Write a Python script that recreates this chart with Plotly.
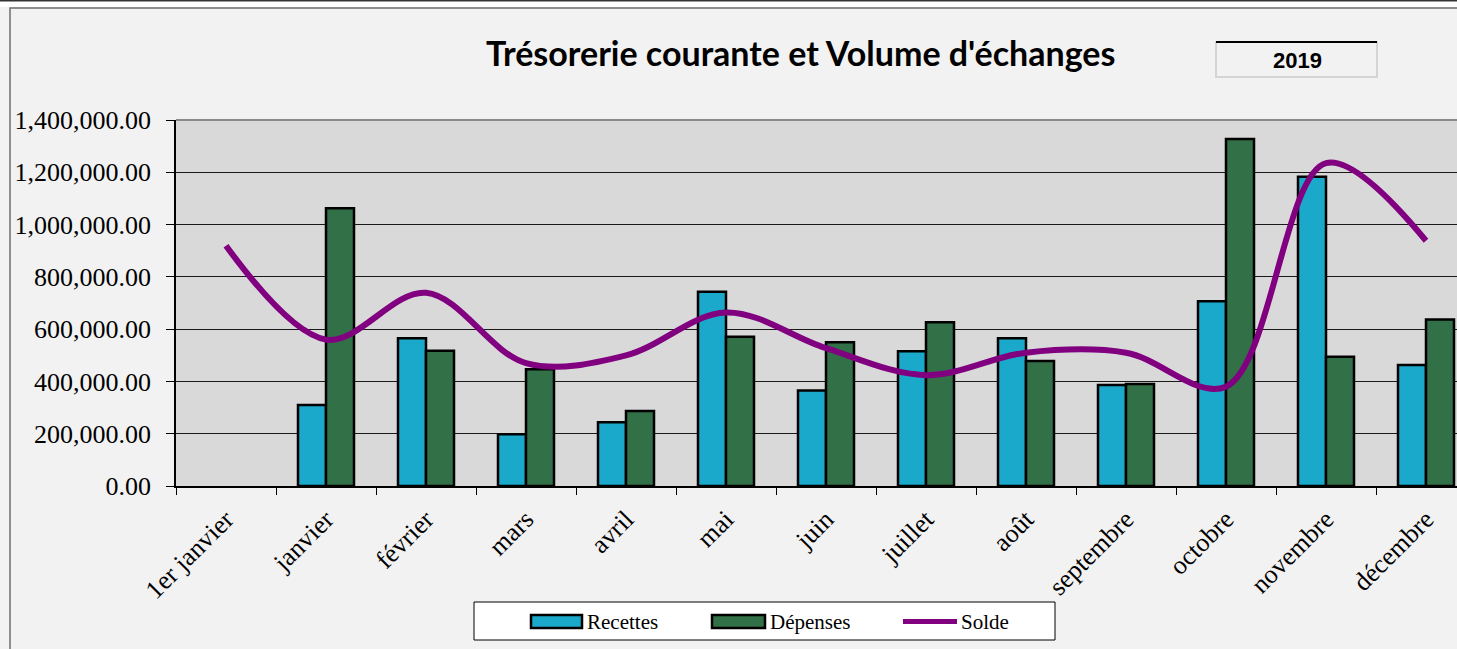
import plotly.graph_objects as go

categories = ["1er janvier", "janvier", "février", "mars", "avril", "mai", "juin",
              "juillet", "août", "septembre", "octobre", "novembre", "décembre"]
recettes = [None, 310000, 565000, 198000, 244000, 743000, 365000, 515000, 565000,
            386000, 707000, 1183000, 463000]
depenses = [None, 1062000, 517000, 447000, 287000, 571000, 550000, 626000, 478000,
            390000, 1327000, 494000, 637000]
solde = [919000, 560000, 739000, 470000, 500000, 664000, 527000, 424000, 510000,
         510000, 380000, 1235000, 938000]
y_ticks = [0, 200000, 400000, 600000, 800000, 1000000, 1200000, 1400000]
y_tick_text = ["{:,.2f}".format(v) for v in y_ticks]
series_names = ["Recettes", "Dépenses", "Solde"]
series_colors = ["#1ba9cb", "#327047", "#800080"]

W, H = 1457, 649
L, R, T, B = 176, 0, 120, 163
pw = W - L - R
ph = H - T - B

def px(x):
    return (x - L) / pw

def py(y):
    return (H - B - y) / ph

serif = "Liberation Serif"

fig = go.Figure()
fig.add_trace(go.Bar(x=categories, y=recettes, name=series_names[0], showlegend=False,
                     marker=dict(color=series_colors[0], line=dict(color="black", width=2.5))))
fig.add_trace(go.Bar(x=categories, y=depenses, name=series_names[1], showlegend=False,
                     marker=dict(color=series_colors[1], line=dict(color="black", width=2.5))))
fig.add_trace(go.Scatter(x=categories, y=solde, name=series_names[2], mode="lines", showlegend=False,
                         line=dict(color=series_colors[2], width=6, shape="spline", smoothing=1.0)))

shapes = [
    # outer frame
    dict(type="rect", xref="paper", yref="paper", x0=px(10), x1=px(1490), y0=py(8), y1=py(700),
         line=dict(color="#6e6e6e", width=1.5), fillcolor="rgba(0,0,0,0)", layer="below"),
    # white strip at top
    dict(type="rect", xref="paper", yref="paper", x0=px(-5), x1=px(1490), y0=py(7), y1=py(-5),
         line=dict(width=0), fillcolor="white", layer="below"),
    dict(type="line", xref="paper", yref="paper", x0=px(0), x1=px(1490), y0=py(0.5), y1=py(0.5),
         line=dict(color="#333333", width=2)),
    # plot top border
    dict(type="line", xref="paper", yref="paper", x0=0, x1=1, y0=1, y1=1,
         line=dict(color="#8a8a8a", width=2)),
    # year box
    dict(type="rect", xref="paper", yref="paper", x0=px(1216), x1=px(1377), y0=py(42), y1=py(77),
         line=dict(color="#d4d4d4", width=2), fillcolor="#f2f2f2"),
    dict(type="line", xref="paper", yref="paper", x0=px(1216), x1=px(1377), y0=py(42), y1=py(42),
         line=dict(color="black", width=2)),
    # legend box
    dict(type="rect", xref="paper", yref="paper", x0=px(474), x1=px(1055), y0=py(602), y1=py(640),
         line=dict(color="black", width=1), fillcolor="white"),
    dict(type="rect", xref="paper", yref="paper", x0=px(531), x1=px(582), y0=py(615), y1=py(628),
         line=dict(color="black", width=2.5), fillcolor=series_colors[0]),
    dict(type="rect", xref="paper", yref="paper", x0=px(712), x1=px(765), y0=py(615), y1=py(628),
         line=dict(color="black", width=2.5), fillcolor=series_colors[1]),
    dict(type="line", xref="paper", yref="paper", x0=px(903), x1=px(957), y0=py(621.5), y1=py(621.5),
         line=dict(color=series_colors[2], width=5)),
]

annotations = [
    dict(text="<b>Trésorerie courante et Volume d'échanges</b>", xref="paper", yref="paper",
         x=px(800), y=py(53), xanchor="center", yanchor="middle", showarrow=False,
         font=dict(family="Lato", size=34, color="black")),
    dict(text="<b>2019</b>", xref="paper", yref="paper", x=px(1297), y=py(61),
         xanchor="center", yanchor="middle", showarrow=False,
         font=dict(family="Liberation Sans", size=22, color="black")),
]
for name, lx in zip(series_names, [585, 768, 959]):
    annotations.append(dict(text=name, xref="paper", yref="paper", x=px(lx), y=py(622),
                            xanchor="left", yanchor="middle", showarrow=False,
                            font=dict(family=serif, size=21, color="black")))

fig.update_layout(
    width=W, height=H,
    margin=dict(l=L, r=R, t=T, b=B, pad=0),
    paper_bgcolor="#f2f2f2", plot_bgcolor="#d9d9d9",
    barmode="group", bargap=0.44, bargroupgap=0,
    shapes=shapes, annotations=annotations,
    showlegend=False,
    font=dict(family=serif, color="black"),
)
fig.update_xaxes(range=[-0.5, 12.31], type="category", tickangle=-45,
                 tickfont=dict(family=serif, size=26, color="black"),
                 showline=True, linecolor="black", linewidth=1.5,
                 ticks="outside", ticklen=7, tickcolor="black", tickson="boundaries",
                 ticklabelstandoff=6, showgrid=False)
fig.update_yaxes(range=[0, 1400000], tickvals=y_ticks, ticktext=y_tick_text,
                 tickfont=dict(family=serif, size=26, color="black"),
                 showline=True, linecolor="black", linewidth=1.5,
                 ticks="outside", ticklen=8, tickcolor="black", ticklabelstandoff=10,
                 showgrid=True, gridcolor="#1a1a1a", gridwidth=1, zeroline=False)

fig.write_html("out.html", config={"displayModeBar": False},
               post_script="document.body.style.margin='0';document.body.style.overflow='hidden';")
